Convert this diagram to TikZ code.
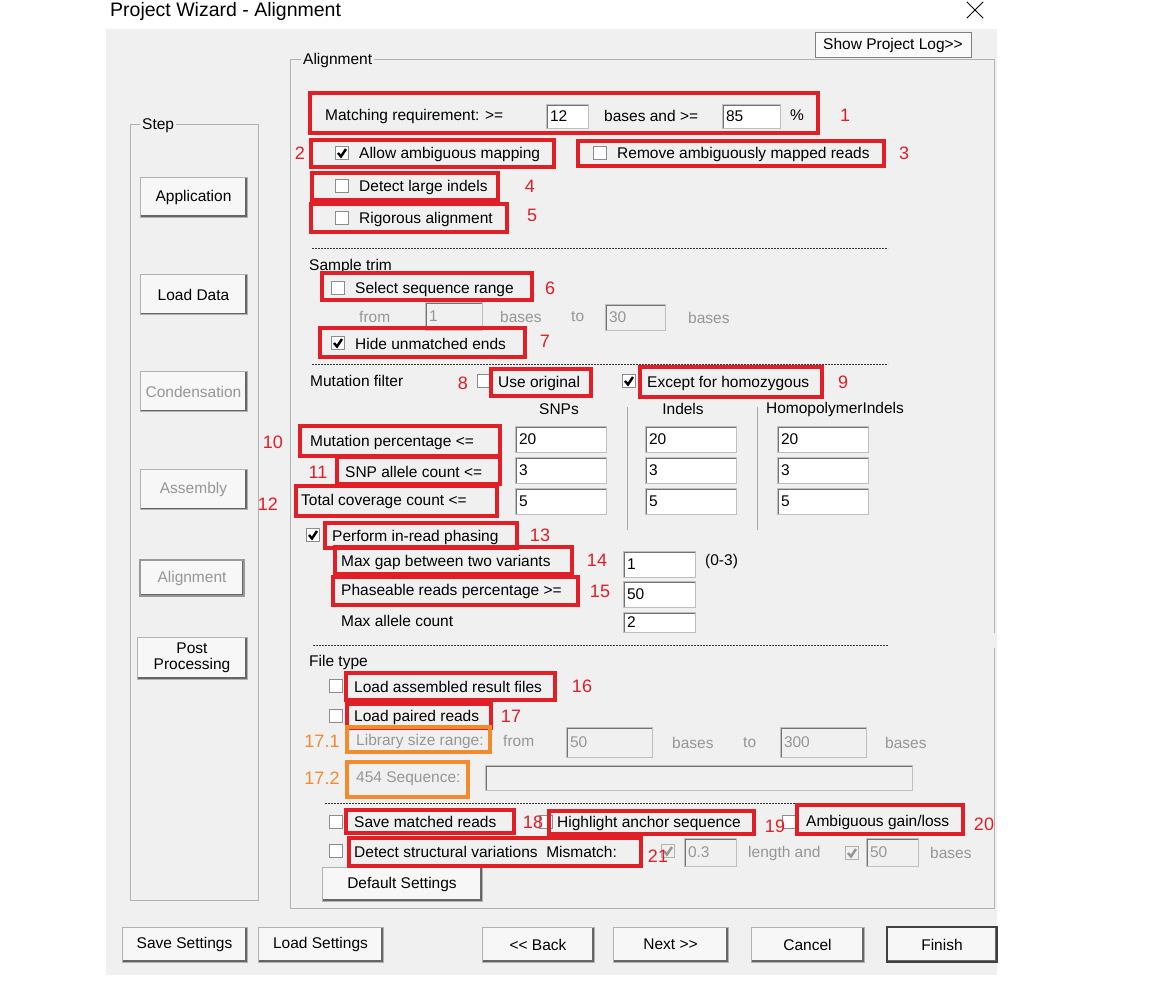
\documentclass[tikz,border=0pt]{standalone}
\usepackage{fontspec}
\setmainfont{Liberation Sans}
\usepackage{tikz}
\usepackage{xcolor}

\definecolor{winbg}{HTML}{F0F0F0}
\definecolor{hlred}{HTML}{E01F26}
\definecolor{hlorange}{HTML}{F28A2E}
\definecolor{disgray}{HTML}{969696}

\newcommand{\uifont}{\fontsize{15.5}{18}\selectfont}

\tikzset{
  txt/.style={anchor=west},
  dis/.style={anchor=west,text=disgray},
  num/.style={text=hlred,font=\fontsize{18}{20}\selectfont},
  onum/.style={text=hlorange,font=\fontsize{18}{20}\selectfont},
  btn/.style={draw=black!30,fill=black!3,line width=1pt,align=center,
    path picture={\draw[black!60,line width=3.5pt] (path picture bounding box.south west) -- (path picture bounding box.south east) -- (path picture bounding box.north east);}},
  tbox/.style={draw=black!25,fill=white,line width=1pt,inner xsep=4pt,align=left,minimum height=26pt,
    path picture={\draw[black!55,line width=3pt] (path picture bounding box.south west) -- (path picture bounding box.north west) -- (path picture bounding box.north east);}},
  dtbox/.style={tbox,fill=winbg,text=disgray},
  chk/.style={draw=black!45,fill=white,line width=1pt,minimum size=13pt},
  ticked/.style={chk,path picture={\draw[black,line width=2.4pt] ([shift={(-4,0)}]path picture bounding box.center) -- ([shift={(-1,3.5)}]path picture bounding box.center) -- ([shift={(4,-4)}]path picture bounding box.center);}},
  dticked/.style={chk,fill=winbg,draw=black!30,path picture={\draw[disgray,line width=2.4pt] ([shift={(-4,0)}]path picture bounding box.center) -- ([shift={(-1,3.5)}]path picture bounding box.center) -- ([shift={(4,-4)}]path picture bounding box.center);}},
  hl/.style={draw=hlred,line width=3.6pt},
  ohl/.style={draw=hlorange,line width=3.6pt},
  sep/.style={black!80,line width=1pt,dash pattern=on 2pt off 1pt},
  grp/.style={draw=black!30,line width=1pt}
}

\begin{document}
\begin{tikzpicture}[x=1pt,y=-1pt,every node/.style={font=\uifont,inner sep=0pt}]
  \useasboundingbox (0,0) rectangle (1152,989);
  \fill[white] (0,0) rectangle (1152,989);
  \node (title) at (110,11) [anchor=west,font=\fontsize{19.5}{22}\selectfont] {Project Wizard - Alignment};
  \node (close) at (975,10) [minimum size=16pt] {};
  \draw[line width=1pt] (close.north west) -- (close.south east);
  \draw[line width=1pt] (close.south west) -- (close.north east);
  \fill[winbg] (106,29) rectangle (997,975);

  \node (log) at (893,45) [draw=black!50,fill=black!2,line width=1pt,minimum width=156pt,minimum height=25pt] {Show Project Log>{}>};

  \draw[grp] (130,124) rectangle (258,900);
  \node (step) at (140,126) [anchor=west,fill=winbg,inner xsep=2pt] {Step};
  \draw[grp] (994,633) -- (994,59) -- (290,59) -- (290,908) -- (994,908) -- (994,648);
  \node (align) at (301,60) [anchor=west,fill=winbg,inner xsep=2pt] {Alignment};

  \node (app) at (193.5,197) [btn,minimum width=107pt,minimum height=40pt] {Application};
  \node (ld) at (193.5,294.5) [btn,minimum width=107pt,minimum height=40pt] {Load Data};
  \node (cond) at (193.5,391.5) [btn,minimum width=107pt,minimum height=40pt,text=disgray] {Condensation};
  \node (asm) at (193.5,489.5) [btn,minimum width=107pt,minimum height=40pt,text=disgray] {Assembly};
  \node (aln) at (192,578) [btn,minimum width=104pt,minimum height=36pt,text=disgray,line width=2pt,draw=black!40] {Alignment};
  \node (post) at (192,658) [btn,minimum width=110pt,minimum height=42pt] {Post\\[-2pt]Processing};

  \node (save) at (184.5,944.5) [btn,minimum width=125pt,minimum height=35pt] {Save Settings};
  \node (load) at (320.5,944.5) [btn,minimum width=125pt,minimum height=35pt] {Load Settings};
  \node (back) at (538,944.5) [btn,minimum width=112pt,minimum height=35pt] {<{}< Back};
  \node (next) at (670.5,944.5) [btn,minimum width=115pt,minimum height=35pt] {Next >{}>};
  \node (cancel) at (807.5,944.5) [btn,minimum width=113pt,minimum height=35pt] {Cancel};
  \node (finish) at (942,944.5) [btn,minimum width=110pt,minimum height=35pt,draw=black!75,line width=2pt] {Finish};

  \node (mreq) at (325,116) [txt] {Matching requirement: >=};
  \node (bmin) at (567,116) [tbox,text width=34pt,minimum height=24pt] {12};
  \node (band) at (604,116) [txt] {bases and >=};
  \node (pmin) at (751,116) [tbox,text width=50pt,minimum height=24pt] {85};
  \node (pct) at (790,115) [txt] {\%};
  \node (n1) at (845,115) [num] {1};

  \node (n2) at (300,153) [num] {2};
  \node (cb2) at (342,153) [ticked] {};
  \node (amb) at (359,154) [txt] {Allow ambiguous mapping};
  \node (cb3) at (600,153) [chk] {};
  \node (rem) at (617,154) [txt] {Remove ambiguously mapped reads};
  \node (n3) at (904,153) [num] {3};
  \node (cb4) at (342,186) [chk] {};
  \node (big) at (359,187) [txt] {Detect large indels};
  \node (n4) at (530,186) [num] {4};
  \node (cb5) at (342,218) [chk] {};
  \node (rig) at (359,219) [txt] {Rigorous alignment};
  \node (n5) at (532,215) [num] {5};

  \draw[sep] (312,248) -- (888,248);
  \node (trim) at (309,266) [txt] {Sample trim};
  \node (cb6) at (338,288) [chk] {};
  \node (ssr) at (355,289) [txt] {Select sequence range};
  \node (n6) at (550,288) [num] {6};
  \node (sfrom) at (359,317) [dis] {from};
  \node (sfv) at (453.5,316) [dtbox,text width=49pt,minimum height=28pt] {1};
  \node (sbas) at (500,317) [dis] {bases};
  \node (sto) at (571,317) [dis] {to};
  \node (stv) at (635,317) [dtbox,text width=52pt] {30};
  \node (sbas2) at (688,318) [dis] {bases};
  \node (cb7) at (338,343) [ticked] {};
  \node (hue) at (355,344) [txt] {Hide unmatched ends};
  \node (n7) at (545,341) [num] {7};

  \draw[sep] (312,364) -- (888,364);
  \node (mfil) at (310,381) [txt] {Mutation filter};
  \node (n8) at (463,383) [num] {8};
  \node (cb8) at (484,381) [chk] {};
  \node (uso) at (498,383) [txt] {Use original};
  \node (cb9) at (629,381) [ticked] {};
  \node (hom) at (647,383) [txt] {Except for homozygous};
  \node (n9) at (843,382) [num] {9};
  \node (hsnp) at (559,409) {SNPs};
  \node (hind) at (683,409) {Indels};
  \node (hhom) at (835,409) {HomopolymerIndels};
  \draw[black!35,line width=1pt] (627,407) -- (627,530);
  \draw[black!35,line width=1pt] (757,407) -- (757,530);

  \node (n10) at (273,442) [num] {10};
  \node (mpct) at (310,442) [txt] {Mutation percentage <=};
  \node (mp1) at (560.5,439) [tbox,text width=83pt] {20};
  \node (mp2) at (690.5,439) [tbox,text width=83pt] {20};
  \node (mp3) at (822.5,439) [tbox,text width=83pt] {20};
  \node (n11) at (318,472) [num] {11};
  \node (sac) at (345,472) [txt] {SNP allele count <=};
  \node (sa1) at (560.5,470) [tbox,text width=83pt] {3};
  \node (sa2) at (690.5,470) [tbox,text width=83pt] {3};
  \node (sa3) at (822.5,470) [tbox,text width=83pt] {3};
  \node (n12) at (268,504) [num] {12};
  \node (tcc) at (301,501) [txt] {Total coverage count <=};
  \node (tc1) at (560.5,501) [tbox,text width=83pt] {5};
  \node (tc2) at (690.5,501) [tbox,text width=83pt] {5};
  \node (tc3) at (822.5,501) [tbox,text width=83pt] {5};

  \node (cb13) at (313,535) [ticked] {};
  \node (phs) at (332,537) [txt] {Perform in-read phasing};
  \node (n13) at (540,535) [num] {13};
  \node (gap) at (341,562) [txt] {Max gap between two variants};
  \node (n14) at (597,560) [num] {14};
  \node (gapv) at (659,564) [tbox,text width=64pt] {1};
  \node (rng) at (705,561) [txt] {(0-3)};
  \node (prp) at (341,591) [txt] {Phaseable reads percentage >=};
  \node (n15) at (600,591) [num] {15};
  \node (prpv) at (659,594) [tbox,text width=64pt] {50};
  \node (mac) at (341,621) [txt] {Max allele count};
  \node (macv) at (659,622) [tbox,text width=64pt,minimum height=20pt] {2};

  \draw[sep] (313,645) -- (888,645);
  \node (ftyp) at (309,662) [txt] {File type};
  \node (cb16) at (336,686) [chk] {};
  \node (lar) at (354,687) [txt] {Load assembled result files};
  \node (n16) at (582,686) [num] {16};
  \node (cb17) at (336,716) [chk] {};
  \node (lpr) at (354,717) [txt] {Load paired reads};
  \node (n17) at (511,716) [num] {17};
  \node (n171) at (322,741) [onum] {17.1};
  \node (lsr) at (356,741) [dis] {Library size range:};
  \node (lfrom) at (503,741) [dis] {from};
  \node (lfv) at (609,742) [dtbox,text width=78pt,minimum height=30pt] {50};
  \node (lbas) at (672,743) [dis] {bases};
  \node (lto) at (743,743) [dis] {to};
  \node (ltv) at (823,742) [dtbox,text width=78pt,minimum height=30pt] {300};
  \node (lbas2) at (885,743) [dis] {bases};
  \node (n172) at (322,778) [onum] {17.2};
  \node (seq) at (356,779) [dis] {454 Sequence:};
  \node (seqv) at (698.5,777.5) [dtbox,text width=419pt,minimum height=25pt] {};

  \draw[sep] (325,803) -- (888,803);
  \node (cb18) at (336,822) [chk] {};
  \node (smr) at (354,822) [txt] {Save matched reads};
  \node (cb19) at (546,822) [chk] {};
  \node (n18) at (533,822) [num] {18};
  \node (has) at (557,823) [txt] {Highlight anchor sequence};
  \node (cb20) at (789,822) [chk] {};
  \node (n19) at (775,826) [num] {19};
  \node (agl) at (806,822) [txt] {Ambiguous gain/loss};
  \node (n20) at (984,824) [num] {20};
  \node (cb21) at (336,851) [chk] {};
  \node (dsv) at (354,852) [txt] {Detect structural variations\ \ Mismatch:};
  \node (cbm) at (668,851) [dticked] {};
  \node (n21) at (658,856) [num] {21};
  \node (mmv) at (710,852) [dtbox,text width=44pt,minimum height=28pt] {0.3};
  \node (lena) at (748,853) [dis] {length and};
  \node (cbl) at (852,853) [dticked] {};
  \node (lenv) at (892,852) [dtbox,text width=44pt,minimum height=28pt] {50};
  \node (lbas3) at (930,853) [dis] {bases};
  \node (dflt) at (402,884) [btn,minimum width=160pt,minimum height=34pt] {Default Settings};

  \draw[hl] (310,93) rectangle (818,133);
  \draw[hl] (311,140) rectangle (554,167);
  \draw[hl] (578,141) rectangle (884,166);
  \draw[hl] (312,173) rectangle (498,200);
  \draw[hl] (311,204) rectangle (507,232);
  \draw[hl] (322,273) rectangle (532,300);
  \draw[hl] (320,328) rectangle (525,357);
  \draw[hl] (491,369) rectangle (591,396);
  \draw[hl] (640,367) rectangle (822,397);
  \draw[hl] (300,426) rectangle (500,456);
  \draw[hl] (337,457) rectangle (500,484);
  \draw[hl] (296,486) rectangle (497,516);
  \draw[hl] (325,523) rectangle (517,548);
  \draw[hl] (335,547) rectangle (572,574);
  \draw[hl] (333,577) rectangle (578,605);
  \draw[hl] (346,673) rectangle (555,700);
  \draw[hl] (347,704) rectangle (491,728);
  \draw[ohl] (347,727) rectangle (490,752);
  \draw[ohl] (347,762) rectangle (468,797);
  \draw[hl] (346,810) rectangle (514,833);
  \draw[hl] (549,811) rectangle (754,834);
  \draw[hl] (797,805) rectangle (963,834);
  \draw[hl] (349,838) rectangle (641,866);
\end{tikzpicture}
\end{document}
